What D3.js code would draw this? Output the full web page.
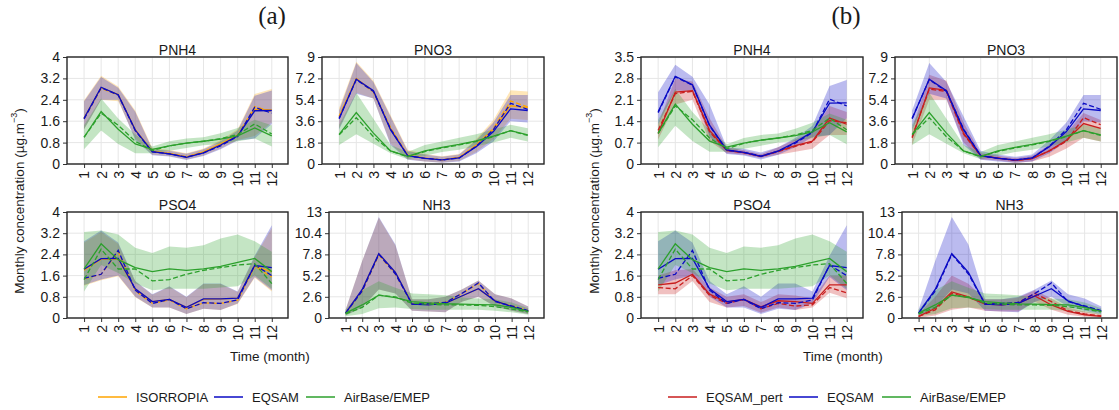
<!DOCTYPE html>
<html>
<head>
<meta charset="utf-8">
<script src="https://cdn.jsdelivr.net/npm/d3@7/dist/d3.min.js"></script>
<style>
  body { margin: 0; background: #fff; }
  text { font-family: "Liberation Sans", Arial, sans-serif; fill: #1a1a1a; }
</style>
</head>
<body>
<svg id="chart" width="1119" height="410"></svg>
<script>
const months = [1, 2, 3, 4, 5, 6, 7, 8, 9, 10, 11, 12];

/* y tick values */
const pnh4TicksA = [0, 0.8, 1.6, 2.4, 3.2, 4];
const pnh4TicksB = [0, 0.7, 1.4, 2.1, 2.8, 3.5];
const pno3Ticks = [0, 1.8, 3.6, 5.4, 7.2, 9];
const pso4Ticks = [0, 0.8, 1.6, 2.4, 3.2, 4];
const nh3Ticks = [0, 2.6, 5.2, 7.8, 10.4, 13];

/* PNH4 : mean (solid), median (dashed), band low / high */
const pnh4Iso     = [1.72, 2.85, 2.60, 1.28, 0.48, 0.40, 0.27, 0.45, 0.75, 1.08, 2.05, 2.02];
const pnh4IsoMed  = [1.70, 2.83, 2.58, 1.26, 0.47, 0.40, 0.27, 0.44, 0.72, 1.05, 2.15, 1.95];
const pnh4IsoLo   = [1.30, 2.40, 2.35, 0.95, 0.35, 0.30, 0.17, 0.32, 0.58, 0.90, 1.05, 1.55];
const pnh4IsoHi   = [2.38, 3.30, 2.90, 2.00, 0.60, 0.52, 0.40, 0.58, 0.90, 1.30, 2.62, 2.80];
const pnh4Eq      = [1.71, 2.87, 2.59, 1.27, 0.46, 0.38, 0.25, 0.42, 0.71, 1.05, 1.99, 2.00];
const pnh4EqMed   = [1.68, 2.85, 2.58, 1.25, 0.45, 0.38, 0.26, 0.42, 0.68, 1.03, 2.12, 1.90];
const pnh4EqLo    = [1.30, 2.40, 2.40, 0.90, 0.33, 0.28, 0.15, 0.30, 0.55, 0.88, 0.95, 1.50];
const pnh4EqHi    = [2.35, 3.25, 2.85, 1.95, 0.55, 0.50, 0.38, 0.55, 0.85, 1.25, 2.55, 2.75];
const pnh4Pert    = [1.00, 2.35, 2.40, 1.10, 0.45, 0.37, 0.25, 0.42, 0.60, 0.75, 1.50, 1.30];
const pnh4PertMed = [1.10, 2.30, 2.38, 1.05, 0.44, 0.37, 0.25, 0.40, 0.58, 0.72, 1.42, 1.35];
const pnh4PertLo  = [0.80, 1.95, 2.10, 0.75, 0.35, 0.30, 0.20, 0.30, 0.40, 0.50, 0.95, 0.95];
const pnh4PertHi  = [1.30, 2.80, 2.70, 1.50, 0.55, 0.45, 0.32, 0.55, 0.80, 1.05, 1.90, 1.70];
const pnh4Obs     = [1.00, 1.96, 1.30, 0.75, 0.55, 0.68, 0.78, 0.85, 0.93, 1.05, 1.35, 1.05];
const pnh4ObsMed  = [1.00, 1.90, 1.45, 0.85, 0.50, 0.68, 0.78, 0.85, 0.95, 1.10, 1.50, 1.12];
const pnh4ObsLo   = [0.55, 1.25, 0.75, 0.40, 0.40, 0.50, 0.60, 0.70, 0.75, 0.85, 0.95, 0.65];
const pnh4ObsHi   = [1.45, 2.45, 1.70, 1.10, 0.65, 0.85, 0.95, 1.00, 1.15, 1.35, 1.65, 1.45];

/* PNO3 */
const pno3Iso     = [4.00, 7.20, 6.10, 3.00, 0.75, 0.50, 0.35, 0.55, 1.55, 2.90, 4.90, 4.75];
const pno3IsoMed  = [4.00, 7.15, 6.05, 3.05, 0.72, 0.50, 0.35, 0.55, 1.60, 3.00, 5.30, 4.80];
const pno3IsoLo   = [3.00, 6.00, 5.50, 1.70, 0.40, 0.22, 0.12, 0.25, 1.00, 2.10, 3.80, 3.70];
const pno3IsoHi   = [4.70, 8.60, 7.00, 4.10, 1.20, 0.85, 0.65, 0.85, 2.10, 3.70, 6.20, 6.10];
const pno3Eq      = [3.80, 7.14, 6.16, 2.87, 0.70, 0.48, 0.34, 0.51, 1.46, 2.73, 4.64, 4.50];
const pno3EqMed   = [3.85, 7.10, 6.10, 2.95, 0.68, 0.48, 0.34, 0.50, 1.50, 2.90, 5.10, 4.60];
const pno3EqLo    = [2.90, 5.90, 5.50, 1.60, 0.35, 0.20, 0.10, 0.20, 0.90, 1.90, 3.60, 3.50];
const pno3EqHi    = [4.50, 8.50, 6.90, 4.00, 1.10, 0.80, 0.60, 0.80, 2.00, 3.50, 5.80, 5.80];
const pno3Pert    = [2.20, 6.40, 6.20, 2.60, 0.70, 0.50, 0.30, 0.45, 1.10, 2.00, 3.40, 3.00];
const pno3PertMed = [2.30, 6.30, 6.10, 2.50, 0.68, 0.50, 0.30, 0.45, 1.10, 1.90, 3.90, 3.30];
const pno3PertLo  = [1.60, 5.40, 5.40, 1.80, 0.40, 0.30, 0.10, 0.20, 0.60, 1.30, 2.20, 1.90];
const pno3PertHi  = [2.90, 7.50, 7.00, 3.50, 0.90, 0.70, 0.50, 0.70, 1.60, 2.60, 4.30, 3.70];
const pno3Obs     = [2.50, 4.33, 2.60, 1.10, 0.65, 1.10, 1.40, 1.65, 1.95, 2.35, 2.80, 2.45];
const pno3ObsMed  = [2.45, 3.90, 2.30, 1.10, 0.60, 1.05, 1.35, 1.60, 1.90, 2.30, 2.80, 2.40];
const pno3ObsLo   = [1.60, 2.50, 1.70, 0.90, 0.40, 0.70, 1.00, 1.20, 1.50, 1.80, 2.20, 1.90];
const pno3ObsHi   = [3.30, 6.00, 3.80, 1.60, 1.00, 1.60, 1.90, 2.20, 2.50, 2.90, 3.30, 3.00];

/* PSO4 */
const pso4Iso     = [1.80, 2.22, 2.23, 1.08, 0.62, 0.70, 0.40, 0.70, 0.72, 0.75, 1.95, 1.75];
const pso4IsoMed  = [1.48, 1.65, 2.50, 1.03, 0.55, 0.68, 0.35, 0.57, 0.55, 0.67, 1.95, 1.55];
const pso4IsoLo   = [1.22, 1.42, 1.58, 0.78, 0.40, 0.40, 0.15, 0.35, 0.30, 0.53, 1.52, 1.00];
const pso4IsoHi   = [2.85, 3.25, 2.80, 1.38, 0.88, 1.18, 0.78, 1.28, 1.28, 0.98, 2.30, 3.40];
const pso4Eq      = [1.84, 2.24, 2.25, 1.10, 0.62, 0.70, 0.40, 0.72, 0.72, 0.75, 1.98, 1.90];
const pso4EqMed   = [1.50, 1.65, 2.55, 1.05, 0.55, 0.70, 0.35, 0.58, 0.55, 0.68, 2.00, 1.60];
const pso4EqLo    = [1.25, 1.45, 1.60, 0.80, 0.40, 0.40, 0.15, 0.35, 0.30, 0.55, 1.55, 1.05];
const pso4EqHi    = [2.90, 3.30, 2.85, 1.40, 0.90, 1.20, 0.80, 1.30, 1.30, 1.00, 2.35, 3.50];
const pso4Pert    = [1.25, 1.32, 1.65, 0.90, 0.60, 0.70, 0.42, 0.65, 0.62, 0.55, 1.25, 1.25];
const pso4PertMed = [1.15, 1.10, 1.60, 0.85, 0.55, 0.70, 0.35, 0.55, 0.45, 0.50, 1.15, 0.95];
const pso4PertLo  = [0.90, 0.90, 1.40, 0.60, 0.40, 0.45, 0.20, 0.40, 0.30, 0.40, 0.95, 0.75];
const pso4PertHi  = [1.60, 1.80, 1.85, 1.15, 0.80, 0.90, 0.60, 0.90, 0.85, 0.75, 1.60, 1.60];
const pso4Obs     = [1.85, 2.80, 2.20, 1.90, 1.75, 1.85, 1.80, 1.85, 1.95, 2.10, 2.25, 1.75];
const pso4ObsMed  = [1.45, 2.60, 1.85, 1.85, 1.40, 1.45, 1.65, 1.80, 1.90, 2.00, 2.05, 1.30];
const pso4ObsLo   = [1.00, 2.00, 1.70, 1.30, 1.05, 1.10, 1.10, 1.10, 1.15, 1.20, 1.60, 1.10];
const pso4ObsHi   = [3.25, 3.30, 3.15, 2.65, 2.45, 2.70, 2.65, 2.75, 3.00, 3.15, 2.90, 2.50];

/* NH3 */
const nh3Iso      = [0.60, 3.45, 7.85, 5.55, 1.75, 1.65, 1.80, 2.70, 3.60, 2.10, 1.45, 0.80];
const nh3IsoMed   = [0.60, 3.30, 7.75, 5.40, 1.75, 1.80, 1.90, 3.00, 4.25, 2.00, 1.50, 0.90];
const nh3IsoLo    = [0.30, 1.30, 3.50, 3.00, 0.90, 0.80, 0.70, 2.00, 2.60, 1.40, 0.90, 0.50];
const nh3IsoHi    = [1.00, 7.00, 12.3, 8.90, 2.30, 2.30, 2.60, 3.50, 4.60, 2.90, 2.40, 1.40];
const nh3Eq       = [0.60, 3.50, 7.90, 5.60, 1.70, 1.60, 1.80, 2.70, 3.60, 2.10, 1.40, 0.80];
const nh3EqMed    = [0.60, 3.30, 7.80, 5.40, 1.70, 1.80, 1.90, 3.00, 4.30, 2.00, 1.50, 0.90];
const nh3EqLo     = [0.30, 1.30, 3.50, 3.00, 0.90, 0.80, 0.70, 2.00, 2.60, 1.40, 0.90, 0.50];
const nh3EqHi     = [1.00, 7.00, 12.4, 9.00, 2.30, 2.30, 2.60, 3.50, 4.60, 2.90, 2.40, 1.40];
const nh3Pert     = [0.20, 1.20, 3.20, 2.60, 1.70, 1.60, 1.80, 2.70, 1.60, 0.80, 0.40, 0.20];
const nh3PertMed  = [0.20, 1.00, 3.00, 2.50, 1.80, 1.70, 1.90, 3.00, 2.00, 0.90, 0.50, 0.25];
const nh3PertLo   = [0.00, 0.30, 1.00, 1.30, 0.90, 0.80, 0.80, 2.00, 1.00, 0.40, 0.15, 0.05];
const nh3PertHi   = [0.50, 2.60, 5.20, 4.20, 2.30, 2.30, 2.50, 3.40, 2.40, 1.30, 0.80, 0.50];
const nh3Obs      = [0.60, 1.60, 2.80, 2.50, 2.00, 1.85, 1.75, 1.70, 1.65, 1.60, 1.30, 0.80];
const nh3ObsMed   = [0.50, 1.30, 2.80, 2.60, 1.80, 1.70, 1.60, 1.60, 1.55, 1.40, 1.10, 0.75];
const nh3ObsLo    = [0.20, 0.50, 1.20, 1.30, 1.10, 1.00, 1.00, 1.00, 1.00, 0.90, 0.70, 0.40];
const nh3ObsHi    = [1.00, 3.40, 4.50, 3.70, 3.00, 2.90, 2.80, 2.50, 2.40, 2.30, 1.90, 1.20];

/* colours */
const cIso = "#ffa500";
const cEq = "#0a0ac4";
const cPert = "#c81e1e";
const cObs = "#2ca02c";

const model = (color, mean, med, lo, hi) => ({ color, mean, med, lo, hi });

const species = {
  PNH4: {
    iso: model(cIso, pnh4Iso, pnh4IsoMed, pnh4IsoLo, pnh4IsoHi),
    eq: model(cEq, pnh4Eq, pnh4EqMed, pnh4EqLo, pnh4EqHi),
    pert: model(cPert, pnh4Pert, pnh4PertMed, pnh4PertLo, pnh4PertHi),
    obs: model(cObs, pnh4Obs, pnh4ObsMed, pnh4ObsLo, pnh4ObsHi),
  },
  PNO3: {
    iso: model(cIso, pno3Iso, pno3IsoMed, pno3IsoLo, pno3IsoHi),
    eq: model(cEq, pno3Eq, pno3EqMed, pno3EqLo, pno3EqHi),
    pert: model(cPert, pno3Pert, pno3PertMed, pno3PertLo, pno3PertHi),
    obs: model(cObs, pno3Obs, pno3ObsMed, pno3ObsLo, pno3ObsHi),
  },
  PSO4: {
    iso: model(cIso, pso4Iso, pso4IsoMed, pso4IsoLo, pso4IsoHi),
    eq: model(cEq, pso4Eq, pso4EqMed, pso4EqLo, pso4EqHi),
    pert: model(cPert, pso4Pert, pso4PertMed, pso4PertLo, pso4PertHi),
    obs: model(cObs, pso4Obs, pso4ObsMed, pso4ObsLo, pso4ObsHi),
  },
  NH3: {
    iso: model(cIso, nh3Iso, nh3IsoMed, nh3IsoLo, nh3IsoHi),
    eq: model(cEq, nh3Eq, nh3EqMed, nh3EqLo, nh3EqHi),
    pert: model(cPert, nh3Pert, nh3PertMed, nh3PertLo, nh3PertHi),
    obs: model(cObs, nh3Obs, nh3ObsMed, nh3ObsLo, nh3ObsHi),
  },
};

/* which models go in each figure half */
const setA = ["iso", "eq", "obs"];
const setB = ["pert", "eq", "obs"];

/* panel boxes */
const panels = [
  { sp: "PNH4", set: setA, x0: 67, x1: 288, y0: 57, y1: 164, ticks: pnh4TicksA },
  { sp: "PNO3", set: setA, x0: 322, x1: 544, y0: 57, y1: 164, ticks: pno3Ticks },
  { sp: "PSO4", set: setA, x0: 67, x1: 288, y0: 212, y1: 318, ticks: pso4Ticks },
  { sp: "NH3", set: setA, x0: 329, x1: 544, y0: 212, y1: 318, ticks: nh3Ticks },
  { sp: "PNH4", set: setB, x0: 641, x1: 863, y0: 57, y1: 164, ticks: pnh4TicksB },
  { sp: "PNO3", set: setB, x0: 895, x1: 1117, y0: 57, y1: 164, ticks: pno3Ticks },
  { sp: "PSO4", set: setB, x0: 641, x1: 863, y0: 212, y1: 318, ticks: pso4Ticks },
  { sp: "NH3", set: setB, x0: 902, x1: 1117, y0: 212, y1: 318, ticks: nh3Ticks },
];

const svg = d3.select("#chart");
const fmt = (d) => String(+d.toFixed(1));

const drawPanel = (p) => {
  const x = d3.scaleLinear().domain([0, 12.95]).range([p.x0, p.x1]);
  const y = d3.scaleLinear().domain([0, d3.max(p.ticks)]).range([p.y1, p.y0]);
  const g = svg.append("g");

  /* grid */
  g.selectAll(".gy").data(p.ticks).enter().append("line")
    .attr("x1", p.x0).attr("x2", p.x1)
    .attr("y1", (d) => y(d)).attr("y2", (d) => y(d))
    .attr("stroke", "#e6e6e6").attr("stroke-width", 1);
  g.selectAll(".gx").data(months).enter().append("line")
    .attr("x1", (d) => x(d)).attr("x2", (d) => x(d))
    .attr("y1", p.y0).attr("y2", p.y1)
    .attr("stroke", "#e6e6e6").attr("stroke-width", 1);

  const mods = p.set.map((k) => species[p.sp][k]);

  /* bands */
  const area = (m) => d3.area()
    .x((d, i) => x(months[i]))
    .y0((d, i) => y(m.lo[i]))
    .y1((d, i) => y(m.hi[i]));
  mods.forEach((m) => {
    g.append("path").datum(m.hi).attr("d", area(m))
      .attr("fill", m.color).attr("fill-opacity", 0.28);
  });

  /* lines */
  const line = d3.line().x((d, i) => x(months[i])).y((d) => y(d));
  mods.forEach((m) => {
    g.append("path").datum(m.mean).attr("d", line)
      .attr("fill", "none").attr("stroke", m.color).attr("stroke-width", 1.3);
    g.append("path").datum(m.med).attr("d", line)
      .attr("fill", "none").attr("stroke", m.color).attr("stroke-width", 1.3)
      .attr("stroke-dasharray", "5,2.5");
  });

  /* axes */
  const yAxis = d3.axisLeft(y).tickValues(p.ticks).tickFormat(fmt).tickSize(4).tickPadding(3);
  const ya = g.append("g").attr("transform", `translate(${p.x0},0)`).call(yAxis);
  const xAxis = d3.axisBottom(x).tickValues(months).tickSize(4);
  const xa = g.append("g").attr("transform", `translate(0,${p.y1})`).call(xAxis);
  [ya, xa].forEach((a) => {
    a.select(".domain").remove();
    a.selectAll("line").attr("stroke", "#333");
    a.selectAll("text").attr("font-size", 14).attr("font-family", '"Liberation Sans", Arial, sans-serif').attr("fill", "#1a1a1a");
  });
  xa.selectAll("text")
    .attr("transform", "rotate(-90)")
    .attr("text-anchor", "end")
    .attr("x", -7).attr("y", 0).attr("dy", "0.35em");

  /* frame */
  g.append("rect")
    .attr("x", p.x0).attr("y", p.y0)
    .attr("width", p.x1 - p.x0).attr("height", p.y1 - p.y0)
    .attr("fill", "none").attr("stroke", "#262626").attr("stroke-width", 1.4);

  /* title */
  g.append("text")
    .attr("x", (p.x0 + p.x1) / 2).attr("y", p.y0 - 2)
    .attr("text-anchor", "middle").attr("font-size", 14)
    .text(p.sp);
};

panels.forEach(drawPanel);

/* figure labels */
const halves = [
  { tag: "(a)", cx: 272, ylab: 19, time: 270, legend: [["ISORROPIA", cIso, 98], ["EQSAM", cEq, 214], ["AirBase/EMEP", cObs, 306]] },
  { tag: "(b)", cx: 846, ylab: 594, time: 843, legend: [["EQSAM_pert", cPert, 668], ["EQSAM", cEq, 789], ["AirBase/EMEP", cObs, 882]] },
];

halves.forEach((h) => {
  svg.append("text")
    .attr("x", h.cx).attr("y", 24)
    .attr("text-anchor", "middle")
    .attr("font-size", 25)
    .style("font-family", '"Liberation Serif", "DejaVu Serif", serif')
    .text(h.tag);

  const yl = svg.append("text")
    .attr("transform", `translate(${h.ylab},201) rotate(-90)`)
    .attr("text-anchor", "middle")
    .attr("dy", "0.35em")
    .attr("font-size", 13.5);
  yl.append("tspan").text("Monthly concentration (\u00b5g.m");
  yl.append("tspan").attr("font-size", 9).attr("dy", "-0.7em").text("\u22123");
  yl.append("tspan").attr("dy", "0.45em").text(")");

  svg.append("text")
    .attr("x", h.time).attr("y", 361)
    .attr("text-anchor", "middle")
    .attr("font-size", 13.5)
    .text("Time (month)");

  h.legend.forEach(([name, color, lx]) => {
    svg.append("line")
      .attr("x1", lx).attr("x2", lx + 29)
      .attr("y1", 397).attr("y2", 397)
      .attr("stroke", color).attr("stroke-width", 1.5);
    svg.append("text")
      .attr("x", lx + 38).attr("y", 397)
      .attr("dy", "0.35em")
      .attr("font-size", 13)
      .text(name);
  });
});
</script>
</body>
</html>
